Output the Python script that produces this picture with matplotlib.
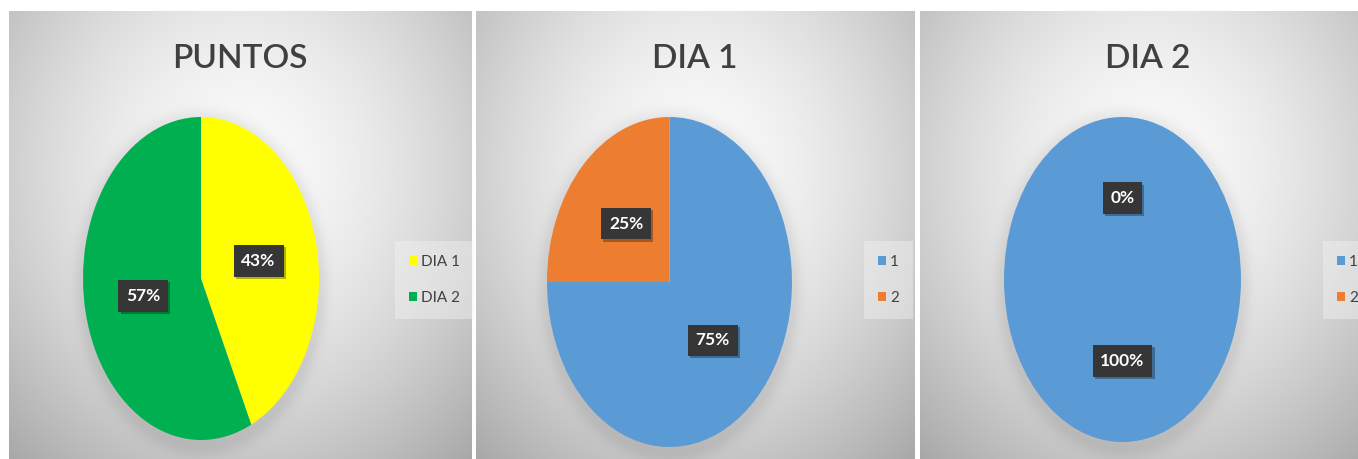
import numpy as np
import matplotlib
matplotlib.use("Agg")
import matplotlib.pyplot as plt
from matplotlib.patches import Patch

# ---- data -------------------------------------------------------------
titles = ["PUNTOS", "DIA 1", "DIA 2"]

puntos_labels = ["DIA 1", "DIA 2"]
puntos_values = [43, 57]

dia1_labels = ["1", "2"]
dia1_values = [75, 25]

dia2_labels = ["1", "2"]
dia2_values = [100, 0]

puntos_colors = ["#FFFF00", "#00B050"]
dia_colors = ["#5B9BD5", "#ED7D31"]

# ---- layout (pixels) ----------------------------------------------------
W, H = 1358, 459
plt.rcParams["font.family"] = ["Lato", "DejaVu Sans"]

fig = plt.figure(figsize=(W / 100, H / 100), dpi=100)

panels = [(9, 472), (476, 915), (920, 1376)]          # x extents of chart areas
panel_top = 11
pie_boxes = [(83, 319, 117, 440), (547, 792, 117, 447), (1004, 1241, 117, 442)]
title_x = [240, 695, 1148]
legend_x = [395, 864, 1323]

# ---- background: soft radial gradient per chart area + pie glow --------
yy, xx = np.mgrid[0:H, 0:W].astype(float)
img = np.ones((H, W))
for (x0, x1), (px0, px1, py0, py1) in zip(panels, pie_boxes):
    cx = (x0 + x1) / 2
    cy = 170.0
    r = np.sqrt(((xx - cx) / ((x1 - x0) * 0.55)) ** 2 + ((yy - cy) / (H * 0.62)) ** 2)
    v = 0.985 - 0.20 * np.clip(r, 0, 1.4) ** 1.6
    # faint shadow around the pie
    ecx, ecy = (px0 + px1) / 2, (py0 + py1) / 2 + 4
    a, b = (px1 - px0) / 2, (py1 - py0) / 2
    e = np.sqrt(((xx - ecx) / a) ** 2 + ((yy - ecy) / b) ** 2)
    d = np.clip(e - 1, 0, None) * min(a, b)
    v = v - 0.07 * np.exp(-(d / 9.0) ** 2)
    mask = (xx >= x0) & (xx < x1) & (yy >= panel_top)
    img[mask] = v[mask]
img = np.clip(img, 0, 1)

bg = fig.add_axes([0, 0, 1, 1], zorder=0)
bg.imshow(np.dstack([img, img, img]), extent=(0, W, H, 0), aspect="auto",
          interpolation="bilinear")
bg.set_xlim(0, W)
bg.set_ylim(H, 0)
bg.axis("off")

# ---- pies ---------------------------------------------------------------
series = [
    (puntos_values, puntos_labels, puntos_colors),
    (dia1_values, dia1_labels, dia_colors),
    (dia2_values, dia2_labels, dia_colors),
]

for i, ((vals, labs, cols), (px0, px1, py0, py1)) in enumerate(zip(series, pie_boxes)):
    ax = fig.add_axes([px0 / W, 1 - py1 / H, (px1 - px0) / W, (py1 - py0) / H], zorder=2)
    wedges, texts, autotexts = ax.pie(
        vals, colors=cols, startangle=90, counterclock=False,
        autopct="%1.0f%%", pctdistance=0.5, radius=1.0,
        wedgeprops=dict(linewidth=0),
        textprops=dict(color="white", fontsize=12.5, fontweight="bold"),
    )
    for t in autotexts:
        t.set_bbox(dict(boxstyle="square,pad=0.45", fc="#363636", ec="none"))
        t.set_zorder(5)
        # small drop shadow behind each value box
        ax.annotate(t.get_text(), xy=t.get_position(), xytext=(1.5, -1.5),
                    textcoords="offset points", ha="center", va="center",
                    fontsize=12.5, fontweight="bold", color="none", zorder=4,
                    bbox=dict(boxstyle="square,pad=0.45", fc="black", alpha=0.3, ec="none"))
    ax.set_aspect("auto")
    ax.set_xlim(-1, 1)
    ax.set_ylim(-1, 1)
    ax.axis("off")

    fig.text(title_x[i] / W, 1 - 59 / H, titles[i], ha="center", va="center",
             fontsize=24, fontweight="semibold", color="#404040", zorder=3)

    handles = [Patch(facecolor=c, edgecolor="none") for c in cols]
    leg = fig.legend(handles, labs, loc="center left",
                     bbox_to_anchor=(legend_x[i] / W, 1 - 280 / H),
                     frameon=True, fontsize=11, handlelength=0.55,
                     handleheight=0.55, handletextpad=0.25, labelspacing=1.45,
                     borderpad=0.9, borderaxespad=0, labelcolor="#404040")
    fr = leg.get_frame()
    fr.set_facecolor("#f2f2f2")
    fr.set_alpha(0.45)
    fr.set_edgecolor("none")
    fr.set_boxstyle("square", pad=0)
    leg.set_zorder(3)

fig.savefig("out.png", dpi=100)
